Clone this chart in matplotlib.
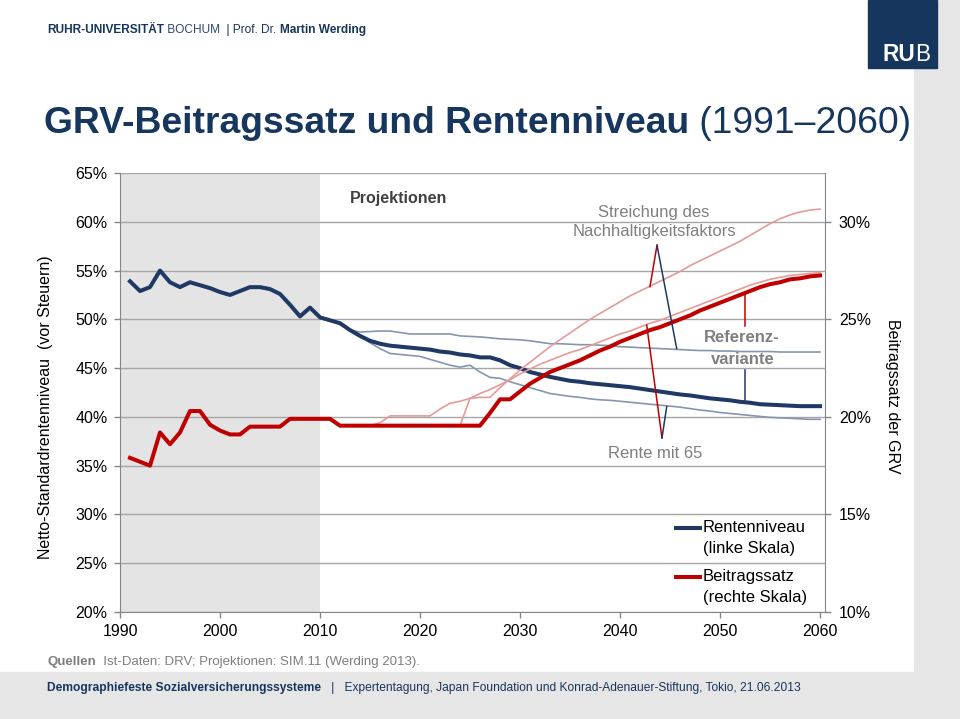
import matplotlib
matplotlib.use("Agg")
import matplotlib.pyplot as plt
from matplotlib import font_manager as fm
from matplotlib.patches import Rectangle

# ---------------- data ----------------
years = list(range(1991, 2061))
rentenniveau = [53.9, 52.9, 53.3, 55.0, 53.8, 53.3, 53.8, 53.5, 53.2, 52.8,
                52.5, 52.9, 53.3, 53.3, 53.1, 52.6, 51.5, 50.3, 51.2, 50.2,
                49.9, 49.6, 48.9, 48.3, 47.8, 47.5, 47.3, 47.2, 47.1, 47.0,
                46.9, 46.7, 46.6, 46.4, 46.3, 46.1, 46.1, 45.8, 45.3, 45.0,
                44.6, 44.35, 44.1, 43.9, 43.7, 43.6, 43.45, 43.35, 43.25, 43.15,
                43.05, 42.9, 42.75, 42.6, 42.45, 42.3, 42.2, 42.05, 41.9, 41.8,
                41.7, 41.55, 41.45, 41.3, 41.25, 41.2, 41.15, 41.1, 41.1, 41.1]
beitragssatz = [17.9, 17.7, 17.5, 19.2, 18.6, 19.2, 20.3, 20.3, 19.6, 19.3,
                19.1, 19.1, 19.5, 19.5, 19.5, 19.5, 19.9, 19.9, 19.9, 19.9,
                19.9, 19.55, 19.55, 19.55, 19.55, 19.55, 19.55, 19.55, 19.55, 19.55,
                19.55, 19.55, 19.55, 19.55, 19.55, 19.55, 20.2, 20.9, 20.9, 21.3,
                21.7, 22.0, 22.3, 22.5, 22.7, 22.9, 23.15, 23.4, 23.6, 23.85,
                24.05, 24.25, 24.45, 24.6, 24.8, 25.0, 25.2, 25.45, 25.65, 25.85,
                26.05, 26.25, 26.45, 26.65, 26.8, 26.9, 27.05, 27.1, 27.2, 27.25]

# variant: Streichung des Nachhaltigkeitsfaktors
years_rn_nhf = list(range(2013, 2061))
rn_nhf = [48.9, 48.7, 48.75, 48.8, 48.8, 48.65, 48.5, 48.5,
          48.5, 48.5, 48.5, 48.3, 48.25, 48.2, 48.1, 48.0, 47.95, 47.9,
          47.8, 47.65, 47.5, 47.5, 47.45, 47.4, 47.4, 47.35, 47.3, 47.2,
          47.15, 47.1, 47.05, 47.0, 46.95, 46.9, 46.85, 46.8, 46.8, 46.75,
          46.75, 46.7, 46.7, 46.7, 46.7, 46.65, 46.65, 46.65, 46.65, 46.65]
years_bs_nhf = list(range(2024, 2061))
bs_nhf = [19.55, 20.95, 21.0, 21.0, 21.5, 21.95, 22.4,
          22.8, 23.2, 23.6, 23.95, 24.3, 24.65, 25.0, 25.3, 25.6, 25.9,
          26.2, 26.45, 26.7, 26.95, 27.2, 27.45, 27.75, 28.0, 28.25, 28.5,
          28.75, 29.0, 29.3, 29.6, 29.9, 30.15, 30.35, 30.5, 30.6, 30.65]

# variant: Rente mit 65
years_rn_r65 = list(range(2014, 2061))
rn_r65 = [48.3, 47.6, 47.0, 46.5, 46.4, 46.3, 46.2,
          45.9, 45.6, 45.3, 45.1, 45.3, 44.6, 44.05, 43.95, 43.6, 43.3,
          43.0, 42.7, 42.4, 42.25, 42.1, 42.0, 41.85, 41.75, 41.7, 41.6,
          41.5, 41.4, 41.3, 41.2, 41.1, 41.0, 40.85, 40.7, 40.6, 40.45,
          40.35, 40.25, 40.15, 40.05, 39.95, 39.9, 39.85, 39.8, 39.75, 39.75]
years_bs_r65 = list(range(2015, 2061))
bs_r65 = [19.55, 19.7, 20.05, 20.05, 20.05, 20.05,
          20.05, 20.4, 20.7, 20.8, 20.95, 21.2, 21.4, 21.65, 21.9, 22.2,
          22.45, 22.7, 22.9, 23.1, 23.3, 23.45, 23.65, 23.85, 24.05, 24.25,
          24.4, 24.6, 24.8, 24.95, 25.15, 25.35, 25.55, 25.75, 25.95, 26.15,
          26.35, 26.55, 26.75, 26.9, 27.05, 27.15, 27.25, 27.3, 27.35, 27.4]

left_ticks = [20, 25, 30, 35, 40, 45, 50, 55, 60, 65]
right_ticks = [10, 15, 20, 25, 30]
x_ticks = [1990, 2000, 2010, 2020, 2030, 2040, 2050, 2060]

# ---------------- style ----------------
names = {f.name for f in fm.fontManager.ttflist}
BASE = ['Liberation Sans', 'DejaVu Sans']
NARROW = ['Liberation Sans Narrow', 'DejaVu Sans'] if 'Liberation Sans Narrow' in names else BASE
plt.rcParams['font.family'] = BASE

NAVY = '#17365d'
C_BLUE = '#1f3864'
C_RED = '#c00000'
C_LBLUE = '#8496b0'
C_LRED = '#e59a9a'
GRID = '#a6a6a6'
SPINE = '#868686'
GRAYTXT = '#7f7f7f'

W, H = 960, 719
fig = plt.figure(figsize=(9.6, 7.19), dpi=100)
fig.patch.set_facecolor('white')

# background decorations
fig.add_artist(Rectangle((0, 0), 1, 47 / H, transform=fig.transFigure,
                         color='#e6e6e6', zorder=0))
fig.add_artist(Rectangle((914 / W, 47 / H), 46 / W, (672 - 68) / H,
                         transform=fig.transFigure, color='#e6e6e6', zorder=0))
fig.add_artist(Rectangle((937 / W, (719 - 68) / H), 23 / W, 68 / H,
                         transform=fig.transFigure, color='#e6e6e6', zorder=0))
fig.add_artist(Rectangle((868 / W, (719 - 68) / H), 69 / W, 68 / H,
                         transform=fig.transFigure, color=NAVY, zorder=1))

renderer = fig.canvas.get_renderer()


def seg_text(x_px, y_px, segments, size, family, target_w=None):
    def draw(sz):
        arts = []
        x = x_px / W
        for t, w, c in segments:
            a = fig.text(x, 1 - y_px / H, t, fontsize=sz, fontweight=w, color=c,
                         ha='left', va='baseline', family=family, zorder=5)
            bb = a.get_window_extent(renderer)
            x = bb.x1 / W
            arts.append(a)
        return arts, x * W - x_px
    arts, wdt = draw(size)
    if target_w is not None and wdt > 0:
        for a in arts:
            a.remove()
        arts, wdt = draw(size * target_w / wdt)
    return arts


# header
seg_text(47, 33, [('RUHR-UNIVERSITÄT', 'bold', NAVY), (' BOCHUM', 'normal', '#2c4a70'),
                  ('  | Prof. Dr. ', 'normal', NAVY), ('Martin Werding', 'bold', NAVY)],
         9, BASE, target_w=321)
# logo text
seg_text(882, 61, [('RU', 'bold', 'white'), ('B', 'light', 'white')], 16, BASE, target_w=48)
# title
seg_text(44, 133, [('GRV-Beitragssatz und Rentenniveau', 'bold', NAVY),
                   (' (1991–2060)', 'normal', NAVY)], 26, NARROW, target_w=868)
# sources
seg_text(47, 665, [('Quellen', 'bold', GRAYTXT),
                   ('  Ist-Daten: DRV; Projektionen: SIM.11 (Werding 2013).', 'normal', GRAYTXT)],
         9, NARROW, target_w=372)
# footer
seg_text(47, 691, [('Demographiefeste Sozialversicherungssysteme', 'bold', NAVY),
                   ('   |   Expertentagung, Japan Foundation und Konrad-Adenauer-Stiftung, Tokio, 21.06.2013',
                    'normal', NAVY)], 9, NARROW, target_w=750)

# ---------------- chart ----------------
ax = fig.add_axes([120 / W, 1 - 612 / H, 705 / W, 439 / H])
ax2 = ax.twinx()
ax.set_xlim(1990, 2060.5)
ax.set_ylim(20, 65)
ax2.set_ylim(10, 32.5)

ax.axvspan(1990, 2010, color='#e4e4e4', zorder=0.2, lw=0)
ax.set_axisbelow(True)
ax.yaxis.grid(True, color=GRID, lw=1)
ax.set_yticks(left_ticks)
ax.set_yticklabels([f'{v}%' for v in left_ticks])
ax2.set_yticks(right_ticks)
ax2.set_yticklabels([f'{v}%' for v in right_ticks])
ax.set_xticks(x_ticks)
ax.set_xticklabels([str(v) for v in x_ticks])

for a in (ax, ax2):
    a.tick_params(direction='out', length=4, width=1, color=SPINE, labelsize=11.5,
                  labelcolor='black')
    for s in a.spines.values():
        s.set_color(SPINE)
ax.tick_params(axis='y', pad=5)
ax.tick_params(axis='x', pad=5)
ax2.tick_params(axis='y', pad=6)
ax.spines['top'].set_visible(False)
ax.spines['right'].set_visible(False)
ax2.spines['top'].set_visible(False)
ax2.spines['left'].set_visible(False)
ax2.spines['bottom'].set_visible(False)
ax2.patch.set_visible(False)

ax.set_ylabel('Netto-Standardrentenniveau  (vor Steuern)', fontsize=11.5, labelpad=8)
ax.yaxis.set_label_coords(-(120 - 53) / 705, (612 - 407) / 439)
ax2.set_ylabel('Beitragssatz der GRV', fontsize=11.5, rotation=-90, va='bottom')
ax2.yaxis.set_label_coords(1 + (893 - 825 - 8) / 705, (612 - 396) / 439)

# variant lines
ax.plot(years_rn_nhf, rn_nhf, color=C_LBLUE, lw=1.2, zorder=3)
ax.plot(years_rn_r65, rn_r65, color=C_LBLUE, lw=1.2, zorder=3)
ax.plot(years, rentenniveau, color=C_BLUE, lw=2.9, zorder=4, solid_joinstyle='round')
ax2.plot(years_bs_nhf, bs_nhf, color=C_LRED, lw=1.2, zorder=3)
ax2.plot(years_bs_r65, bs_r65, color=C_LRED, lw=1.2, zorder=3)
ax2.plot(years, beitragssatz, color=C_RED, lw=2.9, zorder=4, solid_joinstyle='round')

# annotations (left-axis coordinates)
T = ax.transData
def aline(xs, ys, c):
    ax2.plot(xs, ys, color=c, lw=1.1, transform=T, zorder=5)

aline([2043.0, 2043.7], [53.35, 57.6], C_RED)
aline([2043.7, 2045.67], [57.6, 47.0], C_BLUE)
aline([2042.67, 2044.2], [49.4, 37.85], C_RED)
aline([2044.67, 2044.2], [41.05, 37.85], C_BLUE)
aline([2052.5, 2052.5], [52.5, 49.3], C_RED)
aline([2052.5, 2052.5], [44.8, 41.7], C_BLUE)

txt = dict(transform=T, zorder=6)
ax2.text(2013, 62.4, 'Projektionen', fontsize=11.5, fontweight='bold', color='#404040',
         ha='left', va='center', **txt)
ax2.text(2043.4, 61.0, 'Streichung des', fontsize=12, color=GRAYTXT, ha='center', va='center', **txt)
ax2.text(2043.4, 59.0, 'Nachhaltigkeitsfaktors', fontsize=12, color=GRAYTXT, ha='center', va='center', **txt)
ax2.text(2052.2, 48.1, 'Referenz-', fontsize=12, fontweight='bold', color=GRAYTXT,
         ha='center', va='center', **txt)
ax2.text(2052.3, 45.9, 'variante', fontsize=12, fontweight='bold', color=GRAYTXT,
         ha='center', va='center', **txt)
ax2.text(2043.5, 36.2, 'Rente mit 65', fontsize=12, color=GRAYTXT, ha='center', va='center', **txt)

# legend
ax2.plot([2045.6, 2048.0], [28.6, 28.6], color=C_BLUE, lw=2.9, transform=T, zorder=6)
ax2.plot([2045.6, 2048.0], [23.6, 23.6], color=C_RED, lw=2.9, transform=T, zorder=6)
ax2.text(2048.3, 28.7, 'Rentenniveau', fontsize=12, ha='left', va='center', **txt)
ax2.text(2048.3, 26.55, '(linke Skala)', fontsize=12, ha='left', va='center', **txt)
ax2.text(2048.3, 23.6, 'Beitragssatz', fontsize=12, ha='left', va='center', **txt)
ax2.text(2048.3, 21.5, '(rechte Skala)', fontsize=12, ha='left', va='center', **txt)

fig.savefig('out.png', dpi=100)
